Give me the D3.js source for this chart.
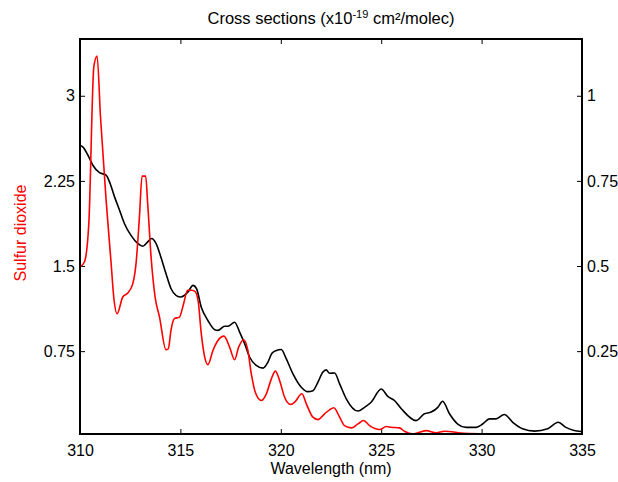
<!DOCTYPE html>
<html>
<head>
<meta charset="utf-8">
<script src="https://cdn.jsdelivr.net/npm/d3@7"></script>
<style>
  html, body { margin: 0; padding: 0; background: #fff; }
  svg text { font-family: "Liberation Sans", Arial, sans-serif; }
</style>
</head>
<body>
<svg id="chart" width="618" height="482"></svg>
<script>
// Sulfur dioxide (left axis, red)
const so2Wavelength = [310.00,310.22,310.44,310.69,310.85,311.02,311.30,311.55,311.68,311.85,312.13,312.38,312.63,312.79,312.96,313.09,313.27,313.37,313.54,313.74,313.96,314.28,314.40,314.53,314.70,314.95,315.16,315.36,315.55,315.71,315.88,316.04,316.21,316.37,316.62,316.87,317.17,317.45,317.70,317.90,318.15,318.36,318.53,318.73,319.03,319.28,319.53,319.73,319.94,320.19,320.49,320.69,321.05,321.27,321.60,321.85,322.18,322.43,322.64,322.93,323.17,323.51,323.84,324.12,324.42,324.92,325.25,325.50,325.91,326.16,326.57,327.24,327.74,328.15,329.14,330.64,331.63,332.63,335.00];
const so2Values = [1.491,1.535,1.877,3.256,3.350,2.815,2.080,1.524,1.227,1.080,1.227,1.262,1.345,1.521,1.932,2.292,2.292,2.053,1.579,1.227,1.050,0.762,0.771,0.933,1.036,1.050,1.168,1.286,1.286,1.279,1.197,0.904,0.697,0.630,0.756,0.844,0.882,0.785,0.674,0.785,0.851,0.756,0.551,0.388,0.315,0.374,0.506,0.574,0.491,0.344,0.280,0.300,0.374,0.286,0.168,0.147,0.198,0.233,0.251,0.168,0.094,0.074,0.109,0.139,0.094,0.059,0.086,0.079,0.074,0.044,0.021,0.050,0.030,0.044,0.026,0.021,0.019,0.015,0.011];

// Second species (right axis, black)
const otherWavelength = [310.00,310.14,310.39,310.64,310.97,311.30,311.47,311.72,311.97,312.21,312.54,312.88,313.12,313.37,313.57,313.79,314.03,314.28,314.53,314.78,315.03,315.20,315.38,315.63,315.80,316.04,316.37,316.71,316.87,317.20,317.37,317.70,317.95,318.20,318.45,318.78,319.11,319.36,319.56,319.78,320.02,320.27,320.60,321.02,321.35,321.60,321.85,322.09,322.26,322.43,322.68,322.93,323.26,323.84,324.17,324.50,325.00,325.33,325.66,326.00,326.74,327.15,327.49,327.82,328.06,328.40,328.81,329.23,329.73,330.05,330.39,330.72,331.13,331.55,332.04,332.63,333.29,333.82,334.20,334.61,334.95];
const otherValues = [0.855,0.850,0.826,0.796,0.774,0.767,0.747,0.703,0.664,0.625,0.590,0.566,0.558,0.571,0.581,0.566,0.526,0.478,0.434,0.414,0.409,0.414,0.424,0.443,0.434,0.379,0.340,0.313,0.311,0.323,0.323,0.335,0.306,0.272,0.232,0.208,0.200,0.218,0.244,0.252,0.255,0.228,0.184,0.144,0.131,0.134,0.159,0.188,0.195,0.185,0.186,0.154,0.110,0.074,0.085,0.100,0.139,0.117,0.105,0.081,0.046,0.066,0.071,0.085,0.103,0.066,0.036,0.026,0.026,0.036,0.051,0.051,0.064,0.041,0.022,0.015,0.022,0.041,0.026,0.017,0.014];

const xTicks = [310, 315, 320, 325, 330, 335];
const leftTicks = [0.75, 1.5, 2.25, 3];
const rightTicks = [0.25, 0.5, 0.75, 1];
const xDomain = [310, 335];
const leftDomain = [0.02, 3.5];
const rightDomain = [0.02 / 3, 3.5 / 3];

const titleText = "Cross sections (x10";
const titleSup = "-19";
const titleRest = " cm²/molec)";
const xLabel = "Wavelength (nm)";
const yLabel = "Sulfur dioxide";

const W = 618, H = 482;
const m = { left: 80, right: 36, top: 39, bottom: 48 };
const pw = W - m.left - m.right, ph = H - m.top - m.bottom;

const svg = d3.select("#chart");
const g = svg.append("g").attr("transform", `translate(${m.left},${m.top})`);

const x = d3.scaleLinear().domain(xDomain).range([0, pw]);
const yL = d3.scaleLinear().domain(leftDomain).range([ph, 0]);
const yR = d3.scaleLinear().domain(rightDomain).range([ph, 0]);

svg.append("defs").append("clipPath").attr("id", "clip")
  .append("rect").attr("width", pw).attr("height", ph);

const fs = "16px";
const tickLen = 5;

function styleAxis(sel) {
  sel.select(".domain").remove();
  sel.selectAll("line").attr("stroke", "#000").attr("stroke-width", 1);
  sel.selectAll("text").attr("font-size", fs).attr("fill", "#000");
}

// bottom axis (inward ticks)
g.append("g").attr("transform", `translate(0,${ph})`)
  .call(d3.axisBottom(x).tickValues(xTicks).tickFormat(d3.format("d")).tickSize(-tickLen).tickPadding(11))
  .call(styleAxis);
// top axis (ticks only)
g.append("g")
  .call(d3.axisTop(x).tickValues(xTicks).tickFormat("").tickSize(-tickLen))
  .call(styleAxis);
// left axis
g.append("g")
  .call(d3.axisLeft(yL).tickValues(leftTicks).tickFormat(d => String(d)).tickSize(-tickLen).tickPadding(5))
  .call(styleAxis);
// right axis
g.append("g").attr("transform", `translate(${pw},0)`)
  .call(d3.axisRight(yR).tickValues(rightTicks).tickFormat(d => String(d)).tickSize(-tickLen).tickPadding(5))
  .call(styleAxis);

// lines
const redLine = d3.line().x((d, i) => x(so2Wavelength[i])).y(d => yL(d)).curve(d3.curveMonotoneX);
const blackLine = d3.line().x((d, i) => x(otherWavelength[i])).y(d => yR(d)).curve(d3.curveMonotoneX);

const lines = g.append("g").attr("clip-path", "url(#clip)");
lines.append("path").datum(otherValues).attr("d", blackLine)
  .attr("fill", "none").attr("stroke", "#000").attr("stroke-width", 1.6);
lines.append("path").datum(so2Values).attr("d", redLine)
  .attr("fill", "none").attr("stroke", "#ff0000").attr("stroke-width", 1.6);

// frame
g.append("rect").attr("width", pw).attr("height", ph)
  .attr("fill", "none").attr("stroke", "#000").attr("stroke-width", 2);

// title
const t = svg.append("text").attr("x", m.left + pw / 2).attr("y", 24)
  .attr("text-anchor", "middle").attr("font-size", "16.5px").attr("fill", "#000");
t.append("tspan").text(titleText);
t.append("tspan").attr("dy", -6).attr("font-size", "11px").text(titleSup);
t.append("tspan").attr("dy", 6).text(titleRest);

// x label
svg.append("text").attr("x", m.left + pw / 2).attr("y", 474)
  .attr("text-anchor", "middle").attr("font-size", fs).attr("fill", "#000").text(xLabel);

// y label
svg.append("text").attr("transform", `translate(26,${233}) rotate(-90)`)
  .attr("text-anchor", "middle").attr("font-size", fs).attr("fill", "#ff0000").text(yLabel);
</script>
</body>
</html>
